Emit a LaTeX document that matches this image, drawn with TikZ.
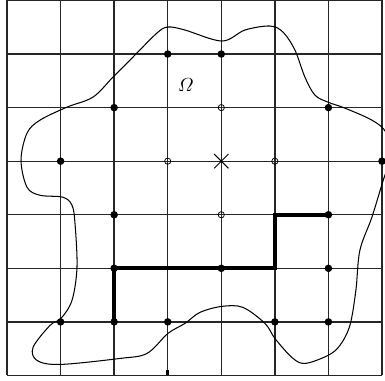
\documentclass[tikz,border=0pt]{standalone}
\usepackage{amsmath}
\usetikzlibrary{shapes.misc}
\begin{document}
\begin{tikzpicture}[
  gridline/.style={line width=0.7pt, black!85},
  boundary/.style={line width=0.55pt, black},
  fdot/.style={circle, fill=black, inner sep=0pt, minimum size=4pt},
  odot/.style={circle, draw=black, line width=0.4pt, inner sep=0pt, minimum size=3.3pt},
  thickpath/.style={line width=2.1pt, black},
  centermark/.style={cross out, draw=black, line width=0.5pt, inner sep=0pt, minimum size=0.25cm}
]
\useasboundingbox (-0.131,-0.093) rectangle (7.056,7.009);
\clip (-0.131,-0.093) rectangle (7.056,7.009);
% grid
\draw[gridline] (0,0) grid (7,7);
% boundary curve (pixel coordinates of the reference)
\begin{scope}[shift={(-0.1307cm,7.0093cm)}, x=0.018667cm, y=-0.018692cm]
\draw[boundary] plot[smooth cycle, tension=0.55] coordinates {
(168,27) (185,30) (222,41) (245,30) (270,26) (283,32) (295,50) (305,77)
(315,95) (328,102) (345,108) (372,120) (386,132) (392,155) (384,178)
(372,217) (360,250) (356,290) (350,325) (340,345) (328,355) (305,363)
(292,357) (275,338) (265,323) (243,307) (222,306) (200,312) (185,323)
(168,333) (147,353) (120,358) (60,364) (37,360) (33,347) (50,325)
(61,318) (72,300) (77,267) (75,223) (72,205) (63,197) (40,195) (27,187)
(21,160) (27,133) (40,120) (67,107) (93,97) (113,77) (133,57) (157,33)};
\end{scope}
% thick path
\draw[thickpath] (2,1) -- (2,2) -- (5,2) -- (5,3) -- (6,3);
\draw[line width=1.5pt] (3,0) -- (3,0.11);
% filled dots
\foreach \x/\y in {3/6,4/6,2/5,6/5,1/4,7/4,2/3,6/3,2/2,4/2,6/2,1/1,2/1,3/1,5/1,6/1}
  \node[fdot] (f\x\y) at (\x,\y) {};
% open dots
\foreach \x/\y in {4/5,3/4,5/4,4/3}
  \node[odot] (o\x\y) at (\x,\y) {};
% centre mark
\node[centermark] (ctr) at (4,4) {};
% label
\node (omega) at (3.34,5.42) {$\varOmega$};
\end{tikzpicture}
\end{document}
